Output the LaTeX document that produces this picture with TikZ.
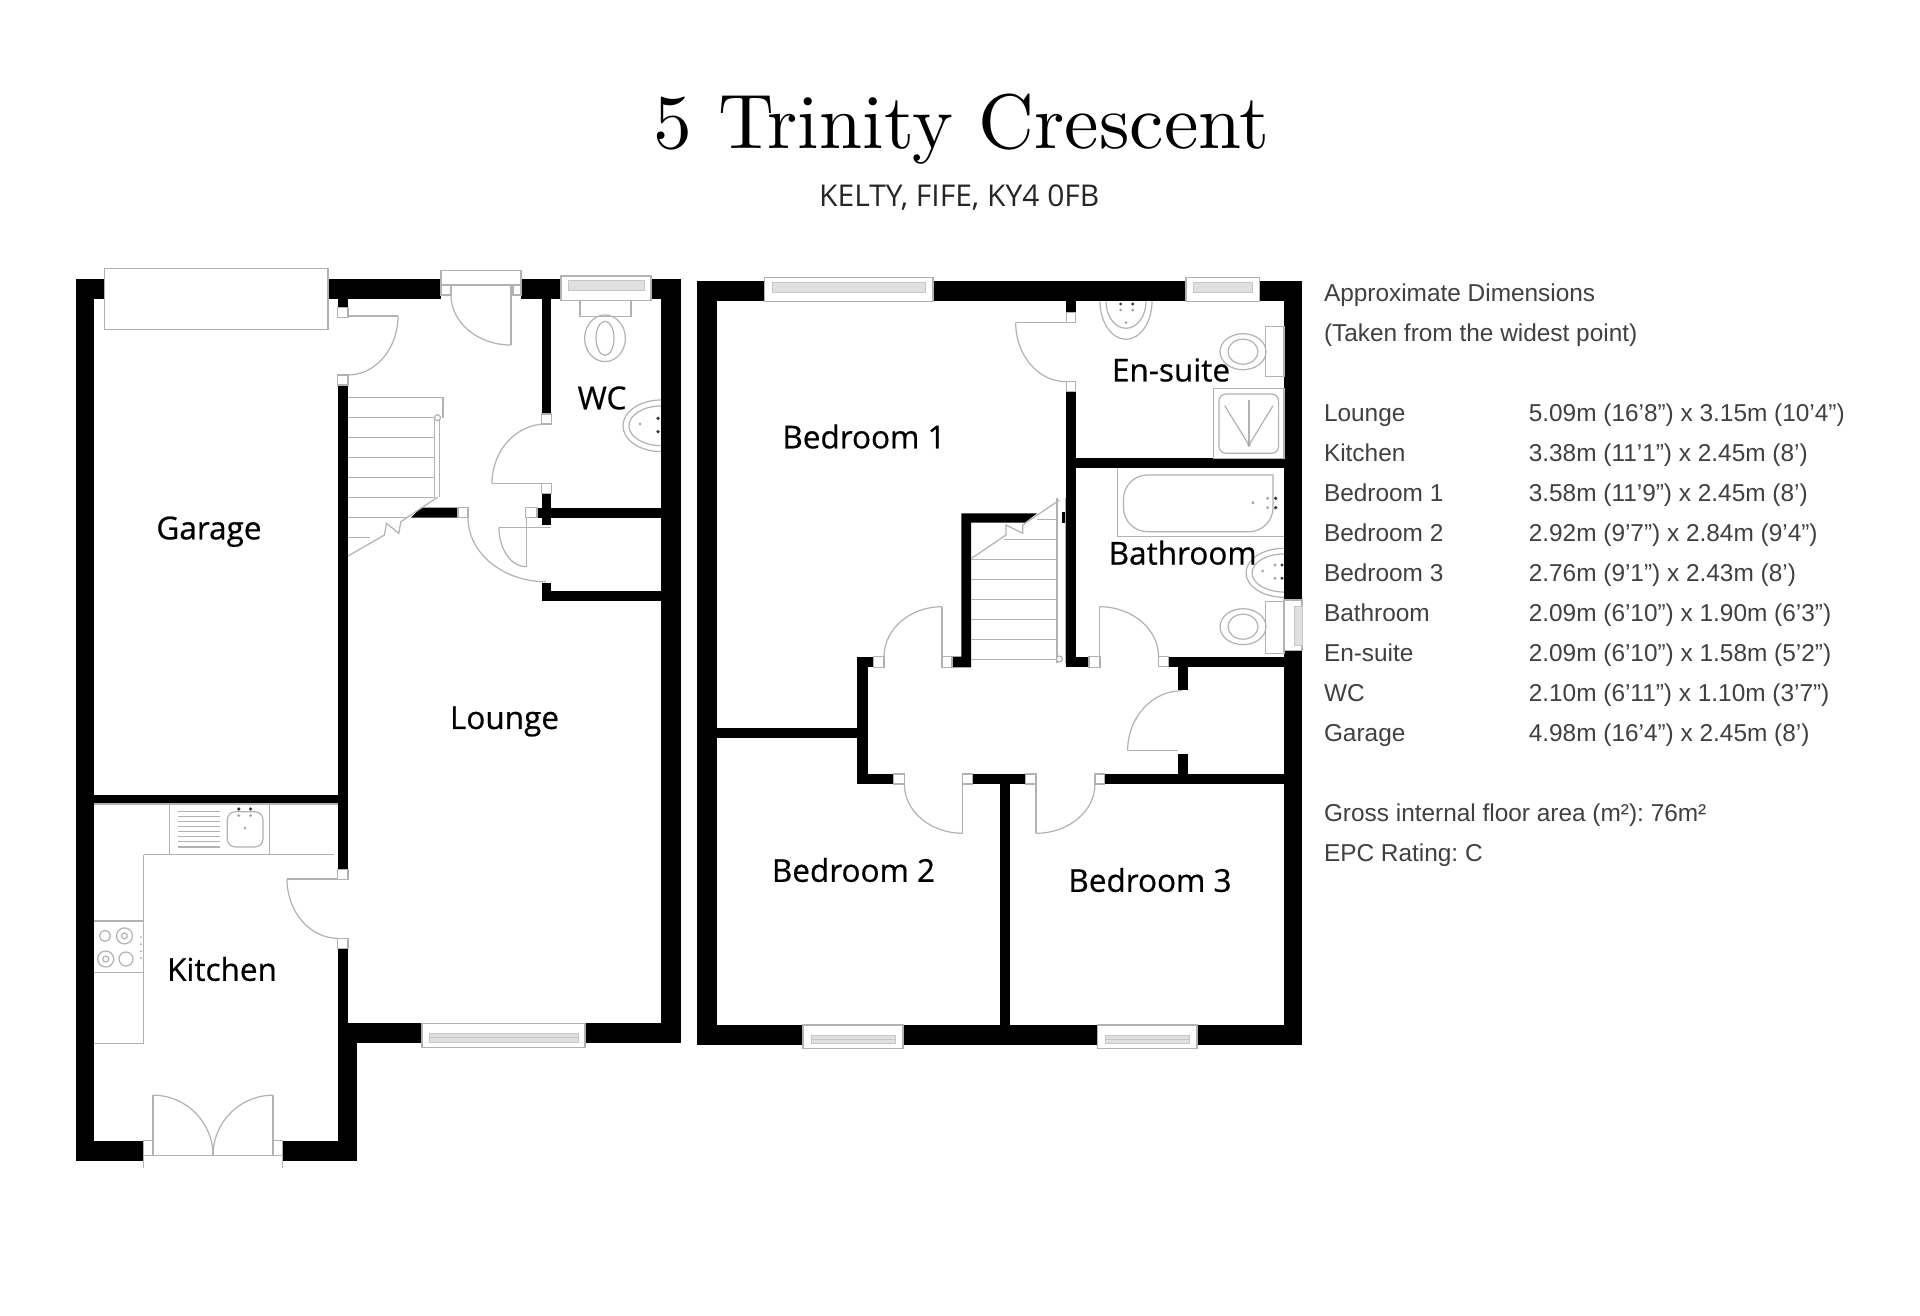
\documentclass[tikz,border=0pt]{standalone}
\usepackage{fontspec}
\frenchspacing
\newfontfamily\titlefont{lmroman10-regular.otf}
\newfontfamily\roomfont[FakeBold=0.6]{Open Sans}
\newfontfamily\tablefont{Liberation Sans}
\newfontfamily\subfont{Open Sans}
\newcommand{\doorarc}[6]{\draw[fixture] (#1,#2) arc[start angle=#3, end angle=#4, x radius=#5pt, y radius=#6pt];}
\tikzset{
    wall/.style={fill=black},
    fixture/.style={draw=black!30, line width=1.2pt},
    jamb/.style={draw=black!30, line width=1.2pt, fill=white},
    glass/.style={draw=black!22, line width=0.8pt, fill=black!12},
    tapdark/.style={fill=black!80},
    tapgrey/.style={fill=black!35},
    roomlabel/.style={font=\roomfont\fontsize{31.5}{36}\selectfont, inner sep=0pt},
    tabletext/.style={font=\tablefont\fontsize{24.4}{28}\selectfont, text=black!75, anchor=base west, inner sep=0pt}
}
\begin{document}
\begin{tikzpicture}[x=1pt, y=-1pt]
    \useasboundingbox (0,0) rectangle (1920,1316);
    \fill[white] (0,0) rectangle (1920,1316);

    \node[font=\titlefont\fontsize{77.4}{90}\selectfont, anchor=base, inner sep=0pt] (title) at (961.5,148.3) {5 Trinity Crescent};
    \node[font=\subfont\fontsize{30}{36}\selectfont, anchor=base, inner sep=0pt, text=black!85] (address) at (959.3,206.7) {KELTY, FIFE, KY4 0FB};

    % ground floor walls
    \fill[wall] (75.5,279.3) rectangle (93.5,1160.7);
    \fill[wall] (75.5,279.3) rectangle (104.5,299.3);
    \fill[wall] (328,279.3) rectangle (441,299.3);
    \fill[wall] (521,279.3) rectangle (561,299.3);
    \fill[wall] (651,279.3) rectangle (680.5,299.3);
    \fill[wall] (661,279.3) rectangle (680.5,1043.4);
    \fill[wall] (337.5,299.3) rectangle (348,307.3);
    \fill[wall] (337.5,385) rectangle (348,869.3);
    \fill[wall] (337.5,948.6) rectangle (348,1040);
    \fill[wall] (93.5,794.5) rectangle (338,804);
    \fill[wall] (337.5,1023.4) rectangle (357,1160.7);
    \fill[wall] (348,1023.4) rectangle (422,1043.4);
    \fill[wall] (585,1023.4) rectangle (680.5,1043.4);
    \fill[wall] (75.5,1140.7) rectangle (143.7,1160.7);
    \fill[wall] (282.5,1140.7) rectangle (357,1160.7);
    \fill[wall] (541.6,299.3) rectangle (551.4,414);
    \fill[wall] (541.6,493.3) rectangle (551.4,525);
    \fill[wall] (537,507.7) rectangle (661,517.7);
    \fill[wall] (411,517.7) -- (421,507.7) -- (458,507.7) -- (458,517.7) -- cycle;
    \fill[wall] (541.6,582.7) rectangle (551.4,600.7);
    \fill[wall] (541.6,590.7) rectangle (661,600.7);

    % first floor walls
    \fill[wall] (697.3,280.7) rectangle (717,1045);
    \fill[wall] (697.3,280.7) rectangle (764.7,301.3);
    \fill[wall] (933,280.7) rectangle (1186,301.3);
    \fill[wall] (1259.4,280.7) rectangle (1302,301.3);
    \fill[wall] (1284,280.7) rectangle (1302,600);
    \fill[wall] (1284,650.7) rectangle (1302,1045);
    \fill[wall] (697.3,1025) rectangle (803,1045);
    \fill[wall] (903,1025) rectangle (1097.3,1045);
    \fill[wall] (1197,1025) rectangle (1302,1045);
    \fill[wall] (1066.3,301.3) rectangle (1075.7,312.7);
    \fill[wall] (1066.3,391.7) rectangle (1075.7,667.3);
    \fill[wall] (1066.3,656.7) rectangle (1089,667.3);
    \fill[wall] (1075.7,458.3) rectangle (1284,468.3);
    \fill[wall] (961.4,513.3) -- (1037,513.3) -- (1024.7,522.7) -- (971,522.7) -- (971,667.3) -- (952,667.3) -- (952,656.7) -- (961.4,656.7) -- cycle;
    \fill[wall] (1062,512.3) rectangle (1066.3,523.3);
    \fill[wall] (857.3,656.7) rectangle (873.7,667.3);
    \fill[wall] (857.3,656.7) rectangle (867.6,784);
    \fill[wall] (717,728.3) rectangle (857.3,738.3);
    \fill[wall] (857.3,774) rectangle (893.3,784);
    \fill[wall] (972.4,774) rectangle (1025.5,784);
    \fill[wall] (1104.7,774) rectangle (1284,784);
    \fill[wall] (1000.2,784) rectangle (1009.6,1025);
    \fill[wall] (1168.8,656.7) rectangle (1284,666.7);
    \fill[wall] (1177.8,666.7) rectangle (1187.5,690);
    \fill[wall] (1177.8,754) rectangle (1187.5,774);

    % ground floor openings
    \draw[fixture, fill=white] (104.5,268.7) rectangle (328,329.3);
    \draw[fixture, fill=white] (441,270.7) rectangle (521,285);
    \draw[jamb] (441,285) rectangle (451,295);
    \draw[jamb] (513,285) rectangle (521,295);
    \draw[fixture] (511,285) -- (511,345);
    \doorarc{451}{295}{180}{270}{60}{50}
    \draw[jamb] (337.5,307.3) rectangle (348,317.3);
    \draw[jamb] (337.5,375) rectangle (348,385);
    \draw[fixture] (348,316) -- (398,316);
    \doorarc{398}{316}{0}{-90}{50}{59}
    \draw[jamb] (541.6,414) rectangle (551.4,424);
    \draw[jamb] (541.6,483.3) rectangle (551.4,493.3);
    \draw[fixture] (492,483.3) -- (541.6,483.3);
    \doorarc{546}{424}{90}{180}{54}{59.3}
    \draw[jamb] (458,507.7) rectangle (468,517.7);
    \doorarc{468}{517.7}{180}{270}{78}{64}
    \draw[jamb] (525.3,507.7) rectangle (537,517.7);
    \draw[fixture] (526.5,517.7) -- (526.5,566.7);
    \draw[fixture] (499,527.7) -- (551,527.7);
    \doorarc{499}{527.7}{180}{270}{27}{39}
    \draw[jamb] (337.5,869.3) rectangle (348,879.7);
    \draw[jamb] (337.5,938.3) rectangle (348,948.6);
    \draw[fixture] (287,879) -- (338,879);
    \doorarc{287}{879}{180}{270}{51}{59.3}
    \draw[jamb] (143.7,1140.7) rectangle (153,1155.5);
    \draw[jamb] (273,1140.7) rectangle (282.5,1155.5);
    \draw[fixture] (143.7,1155.5) -- (282.5,1155.5);
    \draw[fixture] (143.7,1155.5) -- (143.7,1167.6);
    \draw[fixture] (282.5,1155.5) -- (282.5,1167.6);
    \draw[fixture] (153,1095.2) -- (153,1155.5);
    \draw[fixture] (273,1095.2) -- (273,1155.5);
    \draw[fixture] (213,1155.5) -- (213,1145);
    \doorarc{153}{1095.2}{90}{0}{60}{60.3}
    \doorarc{273}{1095.2}{90}{180}{60}{60.3}

    % first floor openings
    \draw[jamb] (1066.3,312.7) rectangle (1075.7,322.7);
    \draw[jamb] (1066.3,381.7) rectangle (1075.7,391.7);
    \draw[fixture] (1015.7,322.7) -- (1066,322.7);
    \doorarc{1015.7}{322.7}{180}{270}{50.3}{59}
    \draw[jamb] (942,656.7) rectangle (952,667.3);
    \draw[jamb] (873.7,656.7) rectangle (884,667.3);
    \draw[fixture] (942,606.7) -- (942,656.7);
    \doorarc{942}{606.7}{90}{180}{58}{50}
    \draw[jamb] (1089,656.7) rectangle (1100,667.3);
    \draw[jamb] (1158.6,656.7) rectangle (1168.8,666.7);
    \draw[fixture] (1099.4,606.7) -- (1099.4,656.7);
    \doorarc{1099.4}{606.7}{90}{0}{59.2}{50}
    \draw[jamb] (893.3,774) rectangle (904.3,784);
    \draw[jamb] (962.7,774) rectangle (972.4,784);
    \draw[fixture] (962.7,784) -- (962.7,833.3);
    \doorarc{904.3}{784}{180}{270}{58.4}{49.3}
    \draw[jamb] (1025.5,774) rectangle (1036,784);
    \draw[jamb] (1095,774) rectangle (1104.7,784);
    \draw[fixture] (1036,784) -- (1036,833.3);
    \doorarc{1095}{784}{0}{-90}{59}{49.3}
    \draw[fixture] (1127.6,750.7) -- (1177.8,750.7);
    \doorarc{1182}{690.7}{90}{180}{54.4}{60}

    % windows
    \draw[fixture, fill=white] (561,276) rectangle (651,300.7);
    \draw[glass] (568,280.7) rectangle (644,290.7);
    \draw[fixture, fill=white] (422,1023.4) rectangle (585,1047.6);
    \draw[glass] (429,1033) rectangle (578,1042);
    \draw[glass] (429,1037.5) -- (578,1037.5);
    \draw[fixture, fill=white] (764.7,277.3) rectangle (933,301.3);
    \draw[glass] (772,282.7) rectangle (925,292.7);
    \draw[fixture, fill=white] (1186,277.3) rectangle (1259.4,301.3);
    \draw[glass] (1193,282.7) rectangle (1252,292.7);
    \draw[fixture, fill=white] (803,1025) rectangle (903,1048.3);
    \draw[glass] (811,1035) rectangle (895,1043.3);
    \draw[glass] (811,1039) -- (895,1039);
    \draw[fixture, fill=white] (1097.3,1025) rectangle (1197,1048.3);
    \draw[glass] (1105,1035) rectangle (1189,1043.3);
    \draw[glass] (1105,1039) -- (1189,1039);
    \draw[fixture, fill=white] (1284,600) rectangle (1302,650.7);
    \draw[glass] (1294,606) rectangle (1302,645);

    % ground floor stairs
    \foreach \ty in {397.3, 417.7, 437.7, 457.3, 477.3, 497.3} {
        \draw[fixture] (348,\ty) -- (434.7,\ty);
    }
    \draw[fixture] (348,517.3) -- (406,517.3);
    \draw[fixture] (348,537.3) -- (370,537.3);
    \draw[fixture] (434.7,397.3) -- (443,397.3) -- (443,417.7);
    \draw[fixture] (434.7,417.7) -- (434.7,497.3);
    \draw[fixture] (439.6,417.7) -- (439.6,497.3);
    \draw[jamb] (437.5,417.7) circle (3pt);
    \draw[fixture] (348,556) -- (384.5,535) -- (386.5,523.3) -- (398.8,533.3) -- (400.8,521.7) -- (437.5,497.3);

    % first floor stairs
    \draw[fixture] (1037,519.3) -- (1057,519.3);
    \draw[fixture] (1004,539.3) -- (1057,539.3);
    \foreach \ty in {559.3, 579.3, 599.3, 619.3, 639.3, 659.3} {
        \draw[fixture] (971,\ty) -- (1057,\ty);
    }
    \draw[fixture] (1057,498.3) -- (1057,663.3);
    \draw[fixture] (1065.5,498.3) -- (1065.5,663.3);
    \draw[jamb] (1059.4,659) circle (3pt);
    \draw[fixture] (971.6,558.3) -- (1006,535) -- (1006,525) -- (1022.7,533.3) -- (1022.7,525) -- (1059.4,500);

    % wc
    \draw[fixture] (580,300.7) rectangle (631,316.7);
    \draw[fixture] (605,338.3) ellipse (20.4pt and 23.3pt);
    \draw[fixture] (605,338.3) ellipse (9pt and 17pt);
    \draw[fixture] (661,400) arc[start angle=90, end angle=270, x radius=38pt, y radius=25.8pt];
    \draw[fixture] (661,406) arc[start angle=90, end angle=270, x radius=32pt, y radius=19.8pt];
    \fill[tapdark] (658,418.3) circle (1.8pt);
    \fill[tapdark] (658,431.7) circle (1.8pt);
    \fill[tapgrey] (640,424) circle (1.5pt);

    % kitchen
    \draw[fixture] (93.5,804) -- (338,804);
    \draw[fixture] (143.7,854.5) -- (333.5,854.5);
    \draw[fixture] (143.7,854.5) -- (143.7,1043.4) -- (93.5,1043.4);
    \draw[fixture] (169.4,804) -- (169.4,854.5);
    \draw[fixture] (269.4,804) -- (269.4,854.5);
    \foreach \ty in {811.7, 816.7, 821.7, 826.7, 831.7, 836.7, 841.7, 846.9} {
        \draw[fixture] (178.4,\ty) -- (220,\ty);
    }
    \draw[fixture, rounded corners=8pt] (227.3,811.7) rectangle (263,846.9);
    \fill[tapdark] (238.8,809) circle (1.8pt);
    \fill[tapdark] (250.6,809) circle (1.8pt);
    \fill[tapgrey] (238.8,815.5) circle (1.6pt);
    \fill[tapgrey] (250.6,815.5) circle (1.6pt);
    \fill[tapgrey] (245,828) circle (1.5pt);
    \draw[fixture] (93.5,921) -- (143.7,921);
    \draw[fixture] (93.5,972.8) -- (143.7,972.8);
    \draw[fixture] (105,935.9) circle (5.5pt);
    \draw[fixture] (124.5,935.9) circle (8pt);
    \draw[fixture] (105.7,959) circle (8pt);
    \draw[fixture] (126,959) circle (7pt);
    \draw[fixture] (124.5,935.9) circle (3pt);
    \draw[fixture] (105.7,959) circle (3pt);
    \foreach \ty in {937, 944, 951, 958} {
        \fill[tapgrey] (141,\ty) circle (1pt);
    }

    % en-suite
    \draw[fixture] (1100,301.3) arc[start angle=180, end angle=360, x radius=26pt, y radius=38pt];
    \draw[fixture] (1106,301.3) arc[start angle=180, end angle=360, x radius=20pt, y radius=27pt];
    \fill[tapdark] (1120.6,304) circle (1.6pt);
    \fill[tapdark] (1132.8,304) circle (1.6pt);
    \fill[tapgrey] (1120.6,310) circle (1.6pt);
    \fill[tapgrey] (1132.8,310) circle (1.6pt);
    \fill[tapgrey] (1126,322.7) circle (1.5pt);
    \draw[fixture] (1265.5,326.7) rectangle (1284,376.7);
    \draw[fixture] (1243,351.7) ellipse (23pt and 18pt);
    \draw[fixture] (1243,351.7) ellipse (15pt and 12.5pt);
    \draw[fixture] (1213.7,388.3) rectangle (1284,458.3);
    \draw[fixture, rounded corners=7pt] (1219,394) rectangle (1278.6,453.3);
    \draw[fixture] (1249,445) -- (1224.7,405.7);
    \draw[fixture] (1249,445) -- (1249,400);
    \draw[fixture] (1249,445) -- (1273,405.7);
    \fill[tapgrey] (1249,445) circle (1.8pt);

    % bathroom
    \draw[fixture] (1117.4,468.3) -- (1117.4,536.7) -- (1284,536.7);
    \draw[fixture] (1273,475) [rounded corners=24pt] -- (1123.5,475) -- (1123.5,531.7) -- (1273,531.7) [sharp corners] -- cycle;
    \fill[tapdark] (1275.7,498.3) circle (1.8pt);
    \fill[tapdark] (1275.7,507.7) circle (1.8pt);
    \fill[tapgrey] (1267.6,498.3) circle (1.6pt);
    \fill[tapgrey] (1267.6,507.7) circle (1.6pt);
    \fill[tapgrey] (1253,502.7) circle (1.6pt);
    \draw[fixture] (1284,548.3) arc[start angle=90, end angle=270, x radius=38pt, y radius=24.5pt];
    \draw[fixture] (1284,554) arc[start angle=90, end angle=270, x radius=32pt, y radius=19pt];
    \fill[tapdark] (1282,565) circle (1.6pt);
    \fill[tapdark] (1282,578.3) circle (1.6pt);
    \fill[tapgrey] (1275,565) circle (1.6pt);
    \fill[tapgrey] (1275,578.3) circle (1.6pt);
    \fill[tapgrey] (1262.6,571) circle (1.5pt);
    \draw[fixture] (1265.5,601.7) rectangle (1284,653.3);
    \draw[fixture] (1243,626.7) ellipse (23pt and 18pt);
    \draw[fixture] (1243,626.7) ellipse (15pt and 12.5pt);

    % room names
    \node[roomlabel] (garage) at (209,531.7) {Garage};
    \node[roomlabel] (wc) at (602,398) {WC};
    \node[roomlabel] (lounge) at (504.5,721.5) {Lounge};
    \node[roomlabel] (kitchen) at (222,969) {Kitchen};
    \node[roomlabel] (bedone) at (864,436.5) {Bedroom 1};
    \node[roomlabel] (ensuite) at (1171,370) {En-suite};
    \node[roomlabel] (bathroom) at (1182.7,552.7) {Bathroom};
    \node[roomlabel] (bedtwo) at (853.5,870) {Bedroom 2};
    \node[roomlabel] (bedthree) at (1150,880) {Bedroom 3};

    % dimensions
    \node[tabletext] (approx) at (1323.8,301.5) {Approximate Dimensions};
    \node[tabletext] (widest) at (1323.8,341.5) {(Taken from the widest point)};
    \foreach \room/\dims [count=\i] in {
        Lounge/5.09m (16’8”) x 3.15m (10’4”),
        Kitchen/3.38m (11’1”) x 2.45m (8’),
        Bedroom 1/3.58m (11’9”) x 2.45m (8’),
        Bedroom 2/2.92m (9’7”) x 2.84m (9’4”),
        Bedroom 3/2.76m (9’1”) x 2.43m (8’),
        Bathroom/2.09m (6’10”) x 1.90m (6’3”),
        En-suite/2.09m (6’10”) x 1.58m (5’2”),
        WC/2.10m (6’11”) x 1.10m (3’7”),
        Garage/4.98m (16’4”) x 2.45m (8’)} {
        \node[tabletext] (room\i) at (1323.8,{381.5+40*\i}) {\room};
        \node[tabletext] (dims\i) at (1528.6,{381.5+40*\i}) {\dims};
    }
    \node[tabletext] (floorarea) at (1323.8,821.5) {Gross internal floor area (m²): 76m²};
    \node[tabletext] (epc) at (1323.8,861.5) {EPC Rating: C};
\end{tikzpicture}
\end{document}
